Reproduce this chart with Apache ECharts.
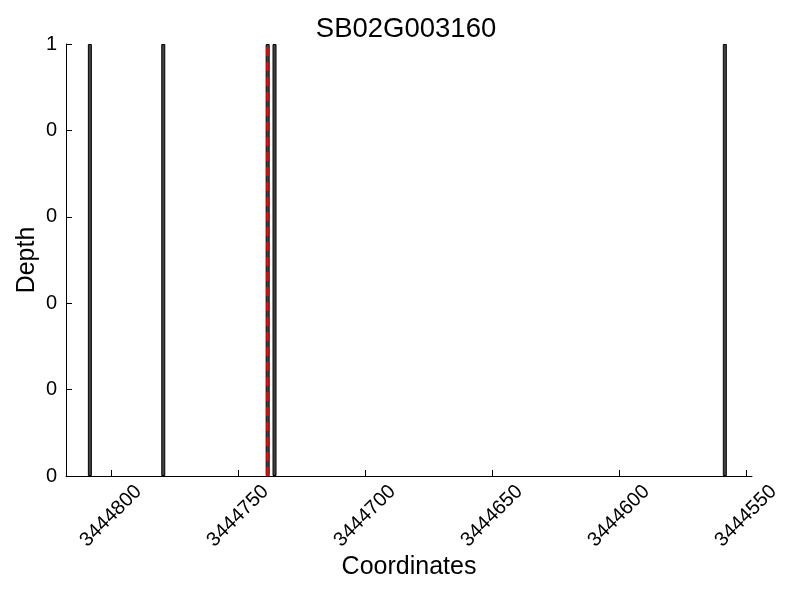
<!DOCTYPE html>
<html>
<head>
<meta charset="utf-8">
<script src="https://cdn.jsdelivr.net/npm/echarts@6/dist/echarts.min.js"></script>
<style>html,body{margin:0;padding:0;background:#fff}#c{width:800px;height:600px}</style>
</head>
<body>
<div id="c"></div>
<script>
const title = 'SB02G003160';
const positions = [3444808.3, 3444779.4, 3444738.3, 3444735.6, 3444558.3];
const depths = [1, 1, 1, 1, 1];
const markerPosition = 3444738.3;
const xTicks = [3444550, 3444600, 3444650, 3444700, 3444750, 3444800];
const yTicks = [0, 0.2, 0.4, 0.6, 0.8, 1];
const xMin = 3444547.6, xMax = 3444817.7;

const FONT = 'Liberation Sans';
const chart = echarts.init(document.getElementById('c'), null, {renderer: 'canvas'});
chart.setOption({
  animation: false,
  backgroundColor: '#fff',
  title: {
    text: title, left: 401, top: 10, textAlign: 'center',
    textStyle: {fontFamily: FONT, fontSize: 27.5, fontWeight: 'normal', color: '#000'}
  },
  grid: {left: 66, right: 48, top: 44, bottom: 124, containLabel: false},
  xAxis: {
    type: 'value', inverse: true, min: xMin, max: xMax,
    name: 'Coordinates', nameLocation: 'middle', nameGap: 79, nameMoveOverlap: false,
    nameTextStyle: {fontFamily: FONT, fontSize: 25, color: '#000'},
    axisLine: {show: true, lineStyle: {color: '#000', width: 1}},
    axisTick: {show: true, inside: true, length: 6, lineStyle: {color: '#000'}, customValues: xTicks},
    axisLabel: {
      customValues: xTicks, rotate: 45, align: 'center', verticalAlign: 'middle', margin: 40,
      fontFamily: FONT, fontSize: 20, color: '#000',
      formatter: v => String(Math.round(v))
    },
    splitLine: {show: false}
  },
  yAxis: {
    type: 'value', min: 0, max: 1, interval: 0.2,
    name: 'Depth', nameLocation: 'middle', nameGap: 26, nameMoveOverlap: false,
    nameTextStyle: {fontFamily: FONT, fontSize: 25, color: '#000'},
    axisLine: {show: true, lineStyle: {color: '#000', width: 1}},
    axisTick: {show: true, inside: true, length: 6, lineStyle: {color: '#000'}},
    axisLabel: {
      margin: 9, fontFamily: FONT, fontSize: 20, color: '#000',
      formatter: v => String(Math.floor(v + 1e-9))
    },
    splitLine: {show: false}
  },
  series: [{
    type: 'bar',
    data: positions.map((p, i) => [p, depths[i]]),
    barWidth: 4,
    itemStyle: {color: '#444', borderColor: '#000', borderWidth: 1},
    markLine: {
      symbol: 'none', silent: true, label: {show: false},
      lineStyle: {color: '#ff0000', type: [9, 6], width: 2.5},
      data: [{xAxis: markerPosition}]
    }
  }]
});
</script>
</body>
</html>
